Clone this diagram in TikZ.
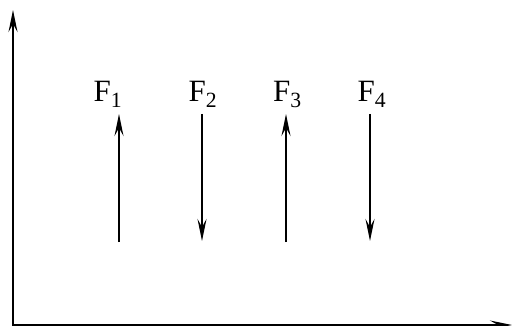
\documentclass[tikz,border=0pt]{standalone}
\usepackage{fontspec}
\setmainfont{Liberation Serif}
\usetikzlibrary{arrows.meta}
\begin{document}
\begin{tikzpicture}[x=1pt,y=-1pt,
  vec/.style={line width=1.6pt,-{Stealth[length=22pt,width=9pt,inset=8pt]}},
  thickvec/.style={vec,line width=2.2pt},
  lbl/.style={anchor=base,inner sep=0pt,font=\fontsize{31}{36}\selectfont}]
\useasboundingbox (0,0) rectangle (514,326);
\coordinate (O) at (13,325);
\coordinate (Y) at (13,10);
\coordinate (X) at (512,325);
\draw[vec] (O) -- (Y);
\draw[vec] (O) ++(-1,0) -- (X);
\node[lbl] (l1) at (108,102) {F\textsubscript{1}};
\node[lbl] (l2) at (203,102) {F\textsubscript{2}};
\node[lbl] (l3) at (287.5,102) {F\textsubscript{3}};
\node[lbl] (l4) at (372,102) {F\textsubscript{4}};
\coordinate (a1s) at (119,242); \coordinate (a1e) at (119,114);
\coordinate (a2s) at (202,114); \coordinate (a2e) at (202,241);
\coordinate (a3s) at (286,242); \coordinate (a3e) at (286,114);
\coordinate (a4s) at (370,114); \coordinate (a4e) at (370,241);
\draw[vec] (a1s) -- (a1e);
\draw[vec] (a2s) -- (a2e);
\draw[thickvec] (a3s) -- (a3e);
\draw[vec] (a4s) -- (a4e);
\end{tikzpicture}
\end{document}
